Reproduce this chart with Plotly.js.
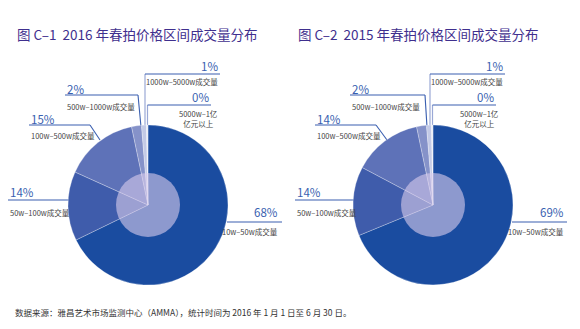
<!DOCTYPE html>
<html>
<head>
<meta charset="utf-8">
<script src="https://cdn.plot.ly/plotly-3.0.1.min.js"></script>
<style>html,body{margin:0;padding:0;background:#fff;}#chart{width:580px;height:329px;}</style>
</head>
<body>
<div id="chart"></div>
<script>
// ---- data ----
const categories = ['10w–50w成交量', '50w–100w成交量', '100w–500w成交量', '500w–1000w成交量', '1000w–5000w成交量', '5000w–1亿<br>亿元以上'];
const values2016 = [68, 14, 15, 2, 1, 0.3];
const values2015 = [69, 14, 14, 2, 1, 0.3];
const title2016 = '图 C–1  2016 年春拍价格区间成交量分布';
const title2015 = '图 C–2  2015 年春拍价格区间成交量分布';
const sourceNote = '数据来源：雅昌艺术市场监测中心（AMMA），统计时间为 2016 年 1 月 1 日至 6 月 30 日。';

// ---- layout helpers ----
const W = 580, H = 329;
const px = x => x / W;
const py = y => 1 - y / H;
const sliceColors = ['#1a4ca0', '#3f5cab', '#5e72b8', '#8592c9', '#c3cae6', '#e9ecf6'];
const FONT = '"Noto Sans CJK SC", "Noto Sans", sans-serif';
const BLUE = '#3a5fb0';

function pieTrace(vals, cx, cy, r) {
  return {
    type: 'pie', values: vals, labels: categories, sort: false,
    direction: 'clockwise', rotation: 0, textinfo: 'none', hoverinfo: 'label+percent',
    marker: {colors: sliceColors, line: {color: 'rgba(255,255,255,0.45)', width: 0.6}},
    domain: {x: [px(cx - r), px(cx + r)], y: [py(cy + r), py(cy - r)]},
    showlegend: false
  };
}

// label placement per slice (pixel coordinates)
const place2016 = [
  {pct: [280, 212, 'right'], cat: [280, 231, 'right'], line: [[227, 222], [282, 222]]},
  {pct: [8, 192, 'left'], cat: [8, 212, 'left'], line: [[8, 200], [70, 200]]},
  {pct: [29, 119, 'left'], cat: [29, 135, 'left'], line: [[29, 125], [90, 125], [100, 140]]},
  {pct: [65, 89.5, 'left'], cat: [65, 106, 'left'], line: [[65, 95], [138, 95], [141, 127]]},
  {pct: [220, 66, 'right'], cat: [220, 81, 'right'], line: [[145, 126], [145, 74], [220, 74]]},
  {pct: [211, 97, 'right'], cat: [198, 118.5, 'center'], line: [[147.5, 126], [147.5, 105], [211, 105]]}
];
const place2015 = [
  {pct: [566, 212, 'right'], cat: [566, 231, 'right'], line: [[512, 222], [567, 222]]},
  {pct: [295, 192, 'left'], cat: [295, 212, 'left'], line: [[295, 200], [355, 200]]},
  {pct: [315, 119, 'left'], cat: [315, 135, 'left'], line: [[315, 125], [376, 125], [387, 140]]},
  {pct: [350, 89.5, 'left'], cat: [350, 106, 'left'], line: [[350, 95], [425, 95], [427, 127]]},
  {pct: [505, 66, 'right'], cat: [505, 81, 'right'], line: [[430, 126], [430, 74], [505, 74]]},
  {pct: [496, 97, 'right'], cat: [479, 118.5, 'center'], line: [[432.5, 126], [432.5, 105], [496, 105]]}
];

const annotations = [];
const shapes = [];

function addLabels(vals, place) {
  const total = vals.reduce((a, b) => a + b, 0);
  vals.forEach((v, i) => {
    const p = place[i];
    annotations.push({
      xref: 'paper', yref: 'paper', x: px(p.pct[0]), y: py(p.pct[1]),
      xanchor: p.pct[2], yanchor: 'middle', showarrow: false,
      text: Math.round(v / total * 100) + '%',
      font: {family: FONT, size: 11.5, color: BLUE}
    });
    annotations.push({
      xref: 'paper', yref: 'paper', x: px(p.cat[0]), y: py(p.cat[1]),
      xanchor: p.cat[2], yanchor: 'middle', showarrow: false, align: 'center',
      text: categories[i],
      font: {family: FONT, size: 7.5, color: '#444'}
    });
    const pts = p.line;
    for (let k = 0; k < pts.length - 1; k++) {
      const vertical = pts[k][0] === pts[k + 1][0];
      shapes.push({
        type: 'line', xref: 'paper', yref: 'paper', layer: 'below',
        x0: px(pts[k][0]), y0: py(pts[k][1]), x1: px(pts[k + 1][0]), y1: py(pts[k + 1][1]),
        line: {color: vertical ? '#9aa8d6' : BLUE, width: vertical ? 1.2 : 1.1}
      });
    }
  });
}
addLabels(values2016, place2016);
addLabels(values2015, place2015);

// inner translucent discs
[[148, 205], [433, 205]].forEach(([cx, cy]) => {
  const r = 32;
  shapes.push({
    type: 'circle', xref: 'paper', yref: 'paper', layer: 'above',
    x0: px(cx - r), x1: px(cx + r), y0: py(cy + r), y1: py(cy - r),
    fillcolor: 'rgba(219,205,236,0.6)', line: {width: 0}
  });
});

// titles & note
annotations.push({xref: 'paper', yref: 'paper', x: px(15), y: py(34), xanchor: 'left', yanchor: 'middle',
  showarrow: false, text: title2016, font: {family: FONT, size: 13.5, color: '#3f2f8e'}});
annotations.push({xref: 'paper', yref: 'paper', x: px(296), y: py(34), xanchor: 'left', yanchor: 'middle',
  showarrow: false, text: title2015, font: {family: FONT, size: 13.5, color: '#3f2f8e'}});
annotations.push({xref: 'paper', yref: 'paper', x: px(13), y: py(312), xanchor: 'left', yanchor: 'middle',
  showarrow: false, text: sourceNote, font: {family: FONT, size: 8.5, color: '#333'}});

const data = [pieTrace(values2016, 148, 205, 80), pieTrace(values2015, 433, 205, 80)];
const layout = {
  width: W, height: H, margin: {l: 0, r: 0, t: 0, b: 0},
  paper_bgcolor: '#fff', plot_bgcolor: '#fff',
  annotations: annotations, shapes: shapes, showlegend: false
};
Plotly.newPlot('chart', data, layout, {displayModeBar: false, staticPlot: true});
</script>
</body>
</html>
